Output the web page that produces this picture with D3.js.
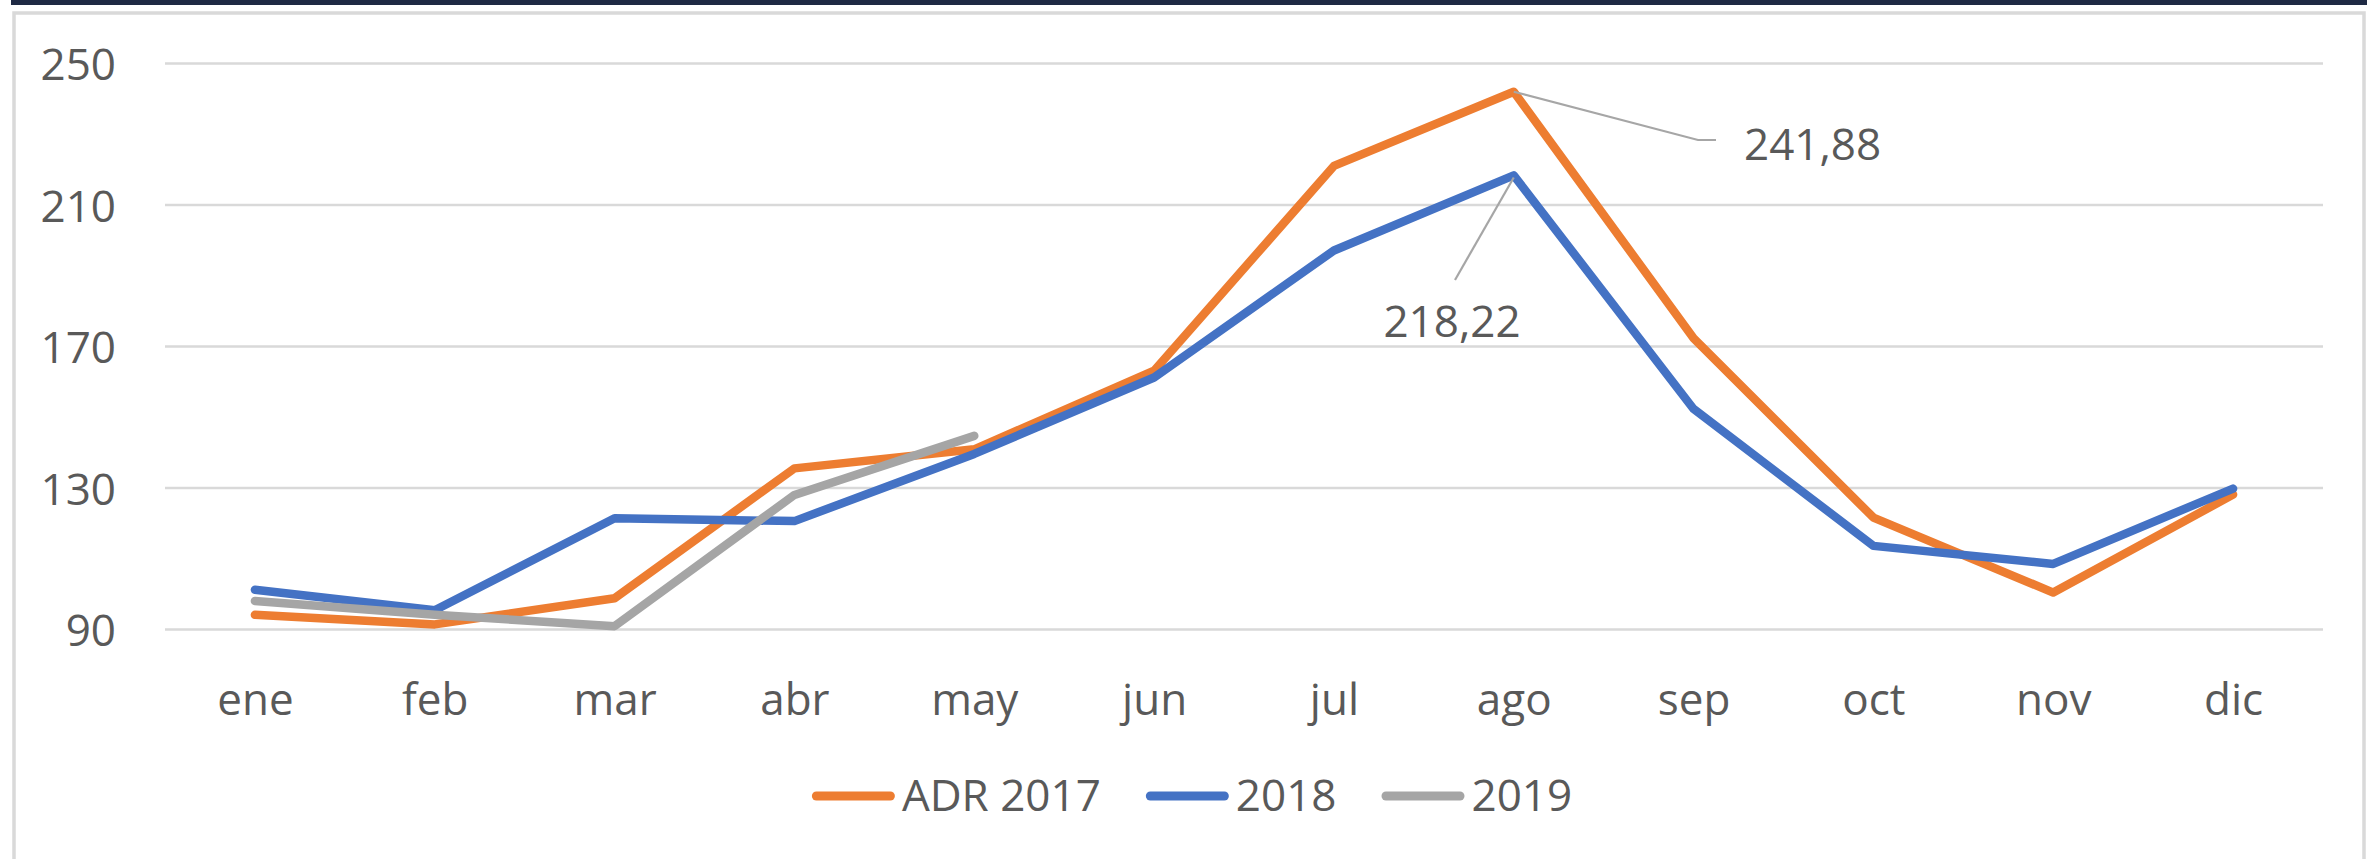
<!DOCTYPE html>
<html>
  <head>
    <meta charset="utf-8">
    <title>ADR mensual</title>
    <style>
      body { margin: 0; background: #fff; }
      svg { display: block; }
      text { font-family: "Open Sans", "Noto Sans", sans-serif; fill: #595959; }
    </style>
  </head>
  <body>
    <div id="container"></div>
    <script type="text/javascript" src="https://cdn.jsdelivr.net/npm/d3@7/dist/d3.min.js"></script>
    <script>
      var months = ["ene","feb","mar","abr","may","jun","jul","ago","sep","oct","nov","dic"];
      var seriesNames = ["ADR 2017","2018","2019"];
      var adr2017 = [94, 91.3, 98.7, 135.4, 140.8, 163, 220.9, 241.88, 172.2, 121.5, 100.3, 128];
      var adr2018 = [101.1, 95.3, 121.3, 120.5, 139.5, 161.1, 197, 218.22, 152.2, 113.5, 108.4, 129.7];
      var adr2019 = [97.9, 94, 90.8, 127.9, 144.6];
      var yTicks = [90, 130, 170, 210, 250];
      var colors = ["#ED7D31", "#4472C4", "#A5A5A5"];

      var W = 2367, H = 859;
      var fs = 44;
      var plot = {left: 165, right: 2323, top: 63, bottom: 629};

      var svg = d3.select("#container").append("svg")
        .attr("width", W)
        .attr("height", H);

      // dark band on top + chart frame
      svg.append("rect").attr("x", 11).attr("y", 0).attr("width", W - 11).attr("height", 5).attr("fill", "#1F2A44");
      svg.append("rect")
        .attr("x", 14).attr("y", 13)
        .attr("width", 2350).attr("height", 900)
        .attr("fill", "none").attr("stroke", "#D9D9D9").attr("stroke-width", 3.5);

      var x = d3.scalePoint().domain(months).range([plot.left, plot.right]).padding(0.5);
      var y = d3.scaleLinear().domain([90, 250]).range([plot.bottom, plot.top]);

      // gridlines
      svg.append("g")
        .attr("transform", "translate(" + plot.left + ",0)")
        .call(d3.axisLeft(y).tickValues(yTicks).tickSize(-(plot.right - plot.left)).tickFormat(""))
        .call(function(g){
          g.select(".domain").remove();
          g.selectAll(".tick line").attr("stroke", "#D9D9D9").attr("stroke-width", 2.5);
        });

      // y labels
      svg.append("g")
        .attr("transform", "translate(116,0)")
        .call(d3.axisLeft(y).tickValues(yTicks).tickSize(0).tickPadding(0))
        .call(function(g){
          g.select(".domain").remove();
          g.selectAll("text")
            .attr("font-size", fs).attr("font-family", null)
            .attr("text-anchor", "end").attr("dy", "0.38em").attr("fill", "#595959");
        });

      // x labels
      svg.append("g")
        .attr("transform", "translate(0," + plot.bottom + ")")
        .call(d3.axisBottom(x).tickSize(0).tickPadding(0))
        .call(function(g){
          g.select(".domain").remove();
          g.selectAll("text")
            .attr("font-size", fs).attr("font-family", null)
            .attr("y", 86).attr("dy", 0).attr("fill", "#595959");
        });

      var line = d3.line()
        .x(function(d, i) { return x(months[i]); })
        .y(function(d) { return y(d); });

      var allSeries = [adr2017, adr2018, adr2019];
      allSeries.forEach(function(s, k){
        svg.append("path")
          .datum(s)
          .attr("d", line)
          .attr("fill", "none")
          .attr("stroke", colors[k])
          .attr("stroke-width", 8.5)
          .attr("stroke-linecap", "round")
          .attr("stroke-linejoin", "round");
      });

      // data labels with leader lines
      var peak17 = {x: x("ago"), y: y(adr2017[7])};
      var peak18 = {x: x("ago"), y: y(adr2018[7])};
      svg.append("polyline")
        .attr("points", [[peak17.x, peak17.y], [1698, 140], [1716, 140]].join(" "))
        .attr("fill", "none").attr("stroke", "#A6A6A6").attr("stroke-width", 2.2);
      svg.append("text")
        .attr("x", 1744).attr("y", 160)
        .attr("font-size", fs)
        .text(d3.format(".2f")(adr2017[7]).replace(".", ","));
      svg.append("line")
        .attr("x1", peak18.x).attr("y1", peak18.y + 2)
        .attr("x2", 1455).attr("y2", 280)
        .attr("stroke", "#A6A6A6").attr("stroke-width", 2.2);
      svg.append("text")
        .attr("x", 1452).attr("y", 337)
        .attr("text-anchor", "middle")
        .attr("font-size", fs)
        .text(d3.format(".2f")(adr2018[7]).replace(".", ","));

      // legend
      var legend = svg.append("g");
      var lx = 0;
      seriesNames.forEach(function(name, k){
        var item = legend.append("g").attr("transform", "translate(" + lx + ",0)");
        item.append("line")
          .attr("x1", 4.5).attr("x2", 78.5).attr("y1", 796).attr("y2", 796)
          .attr("stroke", colors[k]).attr("stroke-width", 9).attr("stroke-linecap", "round");
        var t = item.append("text")
          .attr("x", 90).attr("y", 811)
          .attr("font-size", fs)
          .text(name);
        lx += 90 + t.node().getComputedTextLength() + 45;
      });
      var lw = lx - 45;
      legend.attr("transform", "translate(" + (1192 - lw / 2) + ",0)");
    </script>
  </body>
</html>
